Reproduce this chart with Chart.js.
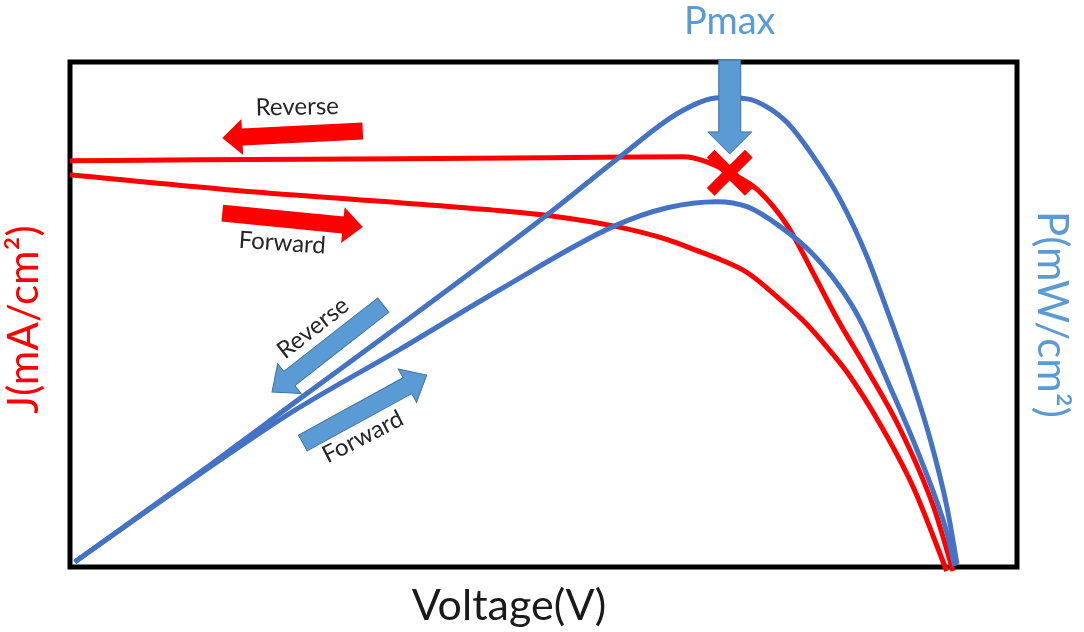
<!DOCTYPE html>
<html>
<head>
<meta charset="utf-8">
<script src="https://cdn.jsdelivr.net/npm/chart.js@4"></script>
<style>
html, body { margin: 0; padding: 0; background: #fff; }
</style>
</head>
<body>
<canvas id="Chart" width="1084" height="632"></canvas>
<script>
// curva J-V, varredura reverse
const vRevJ = [0, 0.165, 0.418, 0.608, 0.777, 0.807, 0.836, 0.871, 0.909, 0.942, 0.972, 1.010, 1.052, 1.094, 1.119];
const jRev  = [20.11, 20.16, 20.21, 20.26, 20.31, 20.06, 19.52, 18.68, 16.90, 14.53, 12.30, 9.78, 6.82, 3.01, -0.2];

// curva J-V, varredura forward
const vFwdJ = [0, 0.199, 0.418, 0.545, 0.608, 0.693, 0.757, 0.798, 0.824, 0.858, 0.900, 0.934, 0.967, 0.985, 1.026, 1.068, 1.111];
const jFwd  = [19.42, 18.68, 18.03, 17.64, 17.39, 16.85, 16.21, 15.61, 15.22, 14.58, 13.24, 12.01, 10.52, 9.63, 7.11, 4.00, -0.2];

// potencia, reverse
const vRevP = [0.006, 0.177, 0.283, 0.418, 0.608, 0.697, 0.773, 0.824, 0.858, 0.883, 0.909, 0.942, 0.976, 1.010, 1.035, 1.061, 1.090, 1.111, 1.124];
const pRev  = [0.2, 4.03, 6.48, 9.57, 14.03, 16.25, 18.02, 18.58, 18.54, 18.22, 17.59, 16.25, 14.55, 12.29, 10.20, 7.94, 5.06, 2.41, 0.12];

// potencia, forward
const vFwdP = [0.006, 0.177, 0.283, 0.418, 0.545, 0.688, 0.757, 0.820, 0.858, 0.900, 0.942, 0.976, 1.001, 1.035, 1.077, 1.111, 1.121];
const pFwd  = [0.2, 3.95, 6.17, 8.62, 10.99, 13.48, 14.23, 14.47, 14.27, 13.48, 12.37, 11.07, 9.80, 7.43, 4.35, 1.38, 0.04];

// ponto de potencia maxima
const vMax = [0.836];
const jMax = [19.52];

const RED = '#FF0000';
const BLUE = '#4472C4';
const LIGHTBLUE = '#5B9BD5';

function pts(xs, ys) {
    return xs.map((x, i) => ({x: x, y: ys[i]}));
}

function arrow(ctx, x1, y1, x2, y2, body, head, headLen, fill, stroke) {
    const ang = Math.atan2(y2 - y1, x2 - x1);
    const len = Math.hypot(x2 - x1, y2 - y1);
    ctx.save();
    ctx.translate(x1, y1);
    ctx.rotate(ang);
    ctx.beginPath();
    ctx.moveTo(0, -body / 2);
    ctx.lineTo(len - headLen, -body / 2);
    ctx.lineTo(len - headLen, -head / 2);
    ctx.lineTo(len, 0);
    ctx.lineTo(len - headLen, head / 2);
    ctx.lineTo(len - headLen, body / 2);
    ctx.lineTo(0, body / 2);
    ctx.closePath();
    ctx.fillStyle = fill;
    ctx.fill();
    if (stroke) {
        ctx.strokeStyle = stroke;
        ctx.lineWidth = 1;
        ctx.stroke();
    }
    ctx.restore();
}

function text(ctx, str, x, y, deg, font, color) {
    ctx.save();
    ctx.translate(x, y);
    ctx.rotate(deg * Math.PI / 180);
    ctx.font = font;
    ctx.fillStyle = color;
    ctx.textAlign = 'center';
    ctx.textBaseline = 'middle';
    ctx.fillText(str, 0, 0);
    ctx.restore();
}

// moldura preta
const frame = {
    id: 'frame',
    beforeDatasetsDraw(chart) {
        const a = chart.chartArea;
        const ctx = chart.ctx;
        ctx.save();
        ctx.strokeStyle = '#000';
        ctx.lineWidth = 5;
        ctx.strokeRect(a.left, a.top, a.right - a.left, a.bottom - a.top);
        ctx.restore();
    }
};

// setas, rotulos e titulos
const notes = {
    id: 'notes',
    afterDraw(chart) {
        const ctx = chart.ctx;
        const sx = chart.scales.x;
        const sy = chart.scales.y;
        const X = v => sx.getPixelForValue(v);
        const Y = v => sy.getPixelForValue(v);
        const lab = '24px Lato';
        const dark = '#262626';

        // setas vermelhas (J)
        arrow(ctx, X(0.371), Y(21.58), X(0.193), Y(21.24), 17, 36, 20, RED);
        text(ctx, 'Reverse', X(0.288), Y(22.77), -1, lab, dark);
        arrow(ctx, X(0.193), Y(17.52), X(0.371), Y(16.83), 17, 36, 20, RED);
        text(ctx, 'Forward', X(0.269), Y(16.04), 4, lab, dark);

        // setas azuis (P)
        arrow(ctx, X(0.397), Y(12.97), X(0.256), Y(8.66), 18, 38, 22, LIGHTBLUE, '#41719C');
        text(ctx, 'Reverse', X(0.308), Y(11.83), -38, lab, dark);
        arrow(ctx, X(0.295), Y(6.14), X(0.452), Y(9.50), 18, 38, 22, LIGHTBLUE, '#41719C');
        text(ctx, 'Forward', X(0.371), Y(6.44), -27, lab, dark);

        // Pmax
        arrow(ctx, X(vMax[0]), Y(25.1), X(vMax[0]), Y(20.45), 22, 44, 22, LIGHTBLUE, '#41719C');
        text(ctx, 'Pmax', X(vMax[0]), Y(26.98), 0, '38px Lato', LIGHTBLUE);

        // titulos dos eixos
        const a = chart.chartArea;
        text(ctx, 'J(mA/cm²)', 24, (a.top + a.bottom) / 2 + 5, -90, '42px Lato', RED);
        text(ctx, 'P(mW/cm²)', 1052, (a.top + a.bottom) / 2, 90, '42px Lato', LIGHTBLUE);
        text(ctx, 'Voltage(V)', 509, 606, 0, '43px Lato', '#1a1a1a');
    }
};

const config = {
    type: 'line',
    data: {
        datasets: [
            {
                label: 'Pmax',
                data: pts(vMax, jMax),
                yAxisID: 'y',
                showLine: false,
                pointStyle: 'crossRot',
                pointRadius: 27,
                pointBorderWidth: 11,
                pointBorderColor: RED,
                pointBackgroundColor: RED
            },
            {
                label: 'P reverse',
                data: pts(vRevP, pRev),
                yAxisID: 'y2',
                borderColor: BLUE,
                borderWidth: 5,
                pointRadius: 0,
                cubicInterpolationMode: 'monotone',
                clip: false
            },
            {
                label: 'P forward',
                data: pts(vFwdP, pFwd),
                yAxisID: 'y2',
                borderColor: BLUE,
                borderWidth: 5,
                pointRadius: 0,
                cubicInterpolationMode: 'monotone',
                clip: false
            },
            {
                label: 'J reverse',
                data: pts(vRevJ, jRev),
                yAxisID: 'y',
                borderColor: RED,
                borderWidth: 5,
                pointRadius: 0,
                cubicInterpolationMode: 'monotone',
                clip: false
            },
            {
                label: 'J forward',
                data: pts(vFwdJ, jFwd),
                yAxisID: 'y',
                borderColor: RED,
                borderWidth: 5,
                pointRadius: 0,
                cubicInterpolationMode: 'monotone',
                clip: false
            }
        ]
    },
    options: {
        responsive: false,
        animation: false,
        layout: { padding: { left: 70, right: 67, top: 62, bottom: 65 } },
        plugins: {
            legend: { display: false },
            tooltip: { enabled: false }
        },
        scales: {
            x: { type: 'linear', min: 0, max: 1.2, display: false },
            y: { min: 0, max: 25, display: false },
            y2: { position: 'right', min: 0, max: 20, display: false }
        }
    },
    plugins: [frame, notes]
};

var myChart = new Chart(document.getElementById('Chart'), config);
</script>
</body>
</html>
